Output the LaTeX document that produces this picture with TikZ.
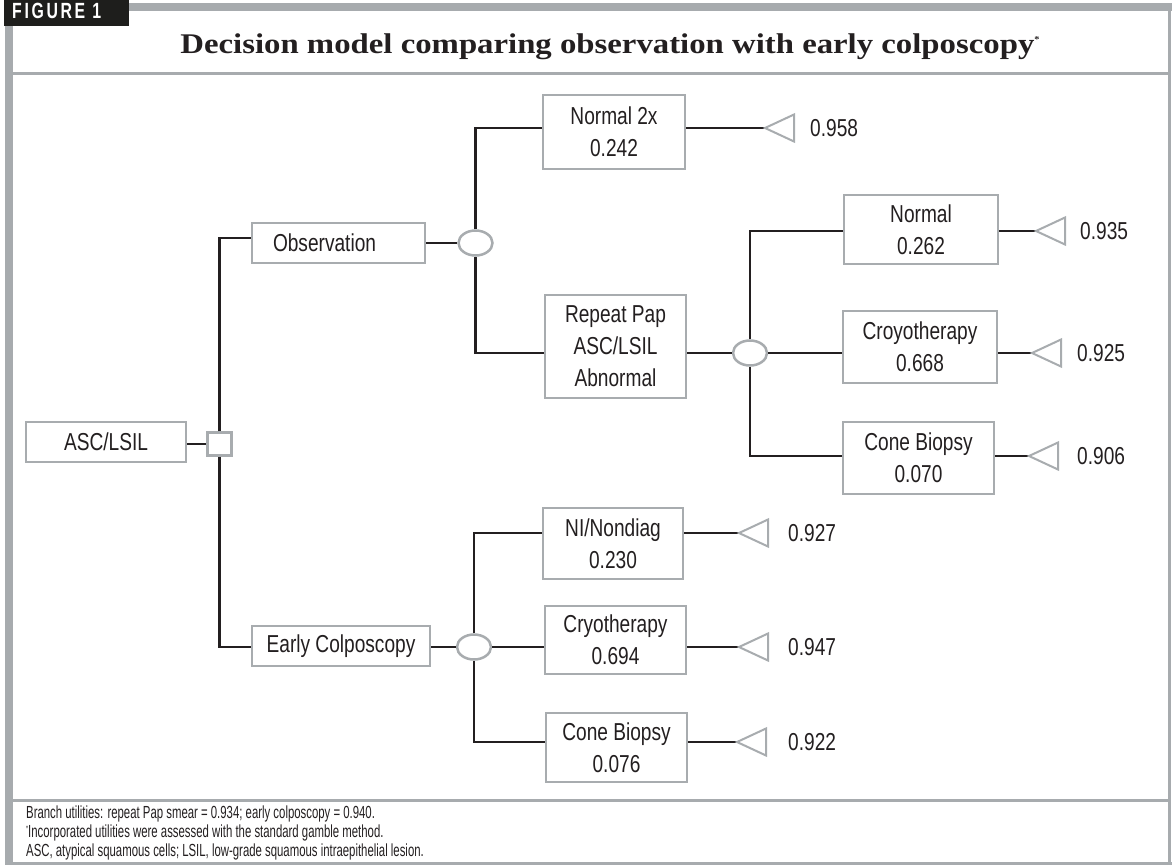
\documentclass[tikz,border=0pt]{standalone}
\usepackage{fontspec}
\setmainfont{Liberation Sans}
\newfontfamily\cf[FakeStretch=0.78]{Liberation Sans}
\newfontfamily\ff[FakeStretch=0.65]{Liberation Sans}
\newfontfamily\tf[FakeStretch=1.15]{Liberation Serif}
\newfontfamily\gf[FakeStretch=0.72,LetterSpace=12]{Liberation Sans}
\usetikzlibrary{shapes.geometric}
\definecolor{frameg}{RGB}{167,171,174}
\definecolor{boxg}{RGB}{168,172,175}
\definecolor{ink}{RGB}{35,31,32}
\definecolor{lbl}{RGB}{30,30,28}
\begin{document}
\begin{tikzpicture}[x=1pt,y=-1pt,
 box/.style={draw=boxg,line width=2pt,fill=white,align=center,inner sep=0pt,
   font=\cf\fontsize{24.5}{32}\selectfont,text=ink},
 chance/.style={ellipse,draw=boxg,line width=2.5pt,fill=white,minimum width=34pt,minimum height=25pt,inner sep=0pt},
 decision/.style={rectangle,draw=boxg,line width=2.5pt,fill=white,minimum width=24pt,minimum height=23pt,inner sep=0pt},
 conn/.style={draw=ink,line width=2.5pt},
 term/.style={draw=boxg,line width=2pt,fill=white,line join=miter},
 val/.style={anchor=west,inner sep=0pt,font=\cf\fontsize{24.5}{32}\selectfont,text=ink},
 foot/.style={anchor=base west,inner sep=0pt,font=\ff\fontsize{17.5}{19}\selectfont,text=ink},
]
\useasboundingbox (0,0) rectangle (1172,865);
% frame
\fill[frameg] (129,3) rectangle (1172,11);
\fill[frameg] (5,26) rectangle (13,865);
\fill[frameg] (13,72) rectangle (1170,75);
\fill[frameg] (1168,11) rectangle (1170.5,865);
\fill[frameg] (13,799) rectangle (1170,801.5);
\fill[frameg] (5,862) rectangle (1172,865);
\fill[lbl] (4,0) rectangle (129,26);
\node (fig) [anchor=base west,text=white,inner sep=0pt,font=\gf\bfseries\fontsize{22}{22}\selectfont] at (12,18) {FIGURE 1};
\node (title) [anchor=base,inner sep=0pt,text=ink,font=\tf\bfseries\fontsize{28.5}{30}\selectfont] at (610,53)
  {Decision model comparing observation with early colposcopy\raisebox{11pt}{\fontsize{9}{9}\selectfont *}};

% nodes
\node (asc) [box,minimum width=160pt,minimum height=40pt] at (106,442) {ASC/LSIL};
\node (sq) [decision] at (219.5,444) {};
\node (obs) [box,minimum width=173pt,minimum height=40pt] at (338.5,243) {\makebox[131pt][l]{Observation}};
\node (early) [box,minimum width=178pt,minimum height=40pt] at (341,646) {Early Colposcopy};
\node (c1) [chance] at (475.5,243) {};
\node (c3) [chance] at (474,647) {};
\node (n2x) [box,minimum width=142pt,minimum height=74pt] at (614,132) {Normal 2x\\0.242};
\node (rep) [box,minimum width=141pt,minimum height=103pt] at (615.5,346.5) {Repeat Pap\\ASC/LSIL\\Abnormal};
\node (c2) [chance] at (750,353) {};
\node (norm) [box,minimum width=154pt,minimum height=69pt] at (921,229.5) {Normal\\0.262};
\node (cryo1) [box,minimum width=154pt,minimum height=72pt] at (920,347) {Croyotherapy\\0.668};
\node (cone1) [box,minimum width=151pt,minimum height=72pt] at (918.5,458) {Cone Biopsy\\0.070};
\node (ni) [box,minimum width=140pt,minimum height=71pt] at (613,543.5) {NI/Nondiag\\0.230};
\node (cryo2) [box,minimum width=141pt,minimum height=68pt] at (615.5,640) {Cryotherapy\\0.694};
\node (cone2) [box,minimum width=141pt,minimum height=69pt] at (616.5,747.5) {Cone Biopsy\\0.076};

% branch levels and terminal tips
\coordinate (yo) at (0,238);
\coordinate (t0) at (765,128);
\coordinate (t1) at (1036,231);
\coordinate (t2) at (1032,353);
\coordinate (t3) at (1029,456);
\coordinate (t4) at (739,533);
\coordinate (t5) at (739,647);
\coordinate (t6) at (737,742);

% connectors
\draw[conn] (asc.east |- sq) -- (sq);
\draw[conn] (sq.north) |- (obs.west |- yo);
\draw[conn] (sq.south) |- (early.west |- c3);
\draw[conn] (obs.east |- c1) -- (c1);
\draw[conn] (early.east |- c3) -- (c3);
\draw[conn] (c1.north) |- (n2x.west |- t0);
\draw[conn] (c1.south) |- (rep.west |- c2);
\draw[conn] (rep.east |- c2) -- (c2);
\draw[conn] (c2.north) |- (norm.west |- t1);
\draw[conn] (c2) -- (cryo1.west |- c2);
\draw[conn] (c2.south) |- (cone1.west |- t3);
\draw[conn] (c3.north) |- (ni.west |- t4);
\draw[conn] (c3) -- (cryo2.west |- c3);
\draw[conn] (c3.south) |- (cone2.west |- t6);
\draw[conn] (n2x.east |- t0) -- (t0);
\draw[conn] (norm.east |- t1) -- (t1);
\draw[conn] (cryo1.east |- t2) -- (t2);
\draw[conn] (cone1.east |- t3) -- (t3);
\draw[conn] (ni.east |- t4) -- (t4);
\draw[conn] (cryo2.east |- t5) -- (t5);
\draw[conn] (cone2.east |- t6) -- (t6);

% terminal triangles
\foreach \t in {t0,t1,t2,t3,t4,t5,t6}{
  \draw[term] (\t) -- ++(29,-13.5) -- ++(0,27) -- cycle;
}
\node (v0) [val] at (810,128) {0.958};
\node (v1) [val] at (1080,231) {0.935};
\node (v2) [val] at (1077,353) {0.925};
\node (v3) [val] at (1077,456) {0.906};
\node (v4) [val] at (788,533) {0.927};
\node (v5) [val] at (788,647) {0.947};
\node (v6) [val] at (788,742) {0.922};

% footer
\node (f1) [foot] at (26,818) {Branch utilities: repeat Pap smear = 0.934; early colposcopy = 0.940.};
\node (f2) [foot] at (26,837) {\raisebox{6pt}{\fontsize{8}{8}\selectfont *}Incorporated utilities were assessed with the standard gamble method.};
\node (f3) [foot] at (26,856) {ASC, atypical squamous cells; LSIL, low-grade squamous intraepithelial lesion.};
\end{tikzpicture}
\end{document}
